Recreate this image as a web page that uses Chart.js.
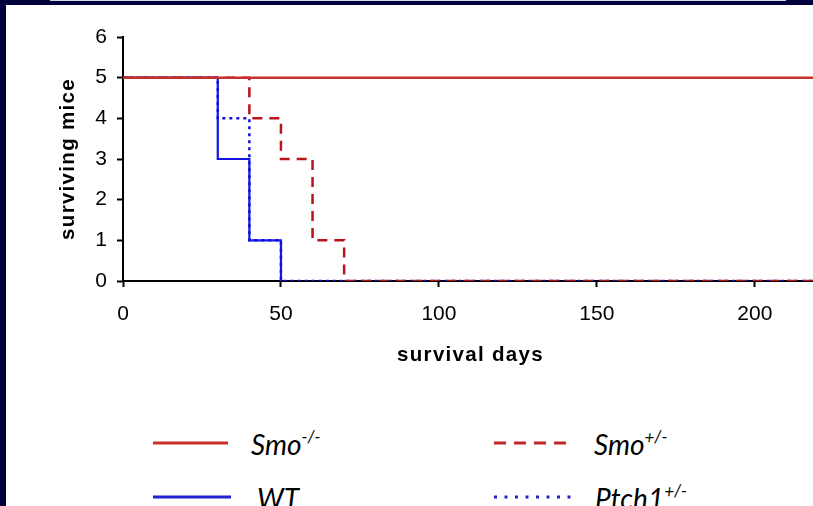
<!DOCTYPE html>
<html>
<head>
<meta charset="utf-8">
<script src="https://cdn.jsdelivr.net/npm/chart.js@4/dist/chart.umd.min.js"></script>
<style>
  html, body { margin: 0; padding: 0; background: #fff; overflow: hidden; width: 813px; height: 506px; }
  #frame_left { position: absolute; left: 0; top: 0; width: 6px; height: 506px; background: #00003c; }
  #frame_top { position: absolute; left: 0; top: 0; width: 813px; height: 5px; background: #00003c; }
  #frame_line { position: absolute; left: 50px; top: 0; width: 736px; height: 1px; background: #d8d8e4; }
  #wrap { position: absolute; left: 0; top: 0; width: 818px; height: 368px; }
  .leg { position: absolute; font-family: Lato, "Noto Sans", sans-serif; font-style: italic; font-size: 28px; color: #000; line-height: 1; white-space: nowrap; }
  .leg sup { font-size: 17px; vertical-align: 0; position: relative; top: -12px; }
  svg.key { position: absolute; overflow: visible; }
</style>
</head>
<body>
<div id="wrap"><canvas id="myChart"></canvas></div>
<div id="frame_left"></div>
<div id="frame_top"></div>
<div id="frame_line"></div>

<!-- Legend keys -->
<svg class="key" style="left:153px;top:442px" width="76" height="2"><line x1="0" y1="1" x2="75" y2="1" stroke="#c8302c" stroke-width="3"/></svg>
<svg class="key" style="left:494px;top:442px" width="74" height="2"><line x1="0" y1="1" x2="73" y2="1" stroke="#c0282a" stroke-width="3" stroke-dasharray="12 8"/></svg>
<svg class="key" style="left:153px;top:496px" width="80" height="2"><line x1="0" y1="1" x2="78" y2="1" stroke="#2020d0" stroke-width="3"/></svg>
<svg class="key" style="left:494px;top:496px" width="78" height="2"><line x1="0" y1="1" x2="77" y2="1" stroke="#2020d0" stroke-width="3" stroke-dasharray="3 7.5"/></svg>

<div class="leg" style="left:251px;top:430px">Smo<sup>-/-</sup></div>
<div class="leg" style="left:594px;top:430px">Smo<sup>+/-</sup></div>
<div class="leg" style="left:257px;top:484px">WT</div>
<div class="leg" style="left:595px;top:484px">Ptch1<sup>+/-</sup></div>

<script>
// Data (Kaplan-Meier steps: day, surviving mice)

const smo_ko_days = [0, 220];
const smo_ko_mice = [5, 5];

const smo_het_days = [0, 40, 50, 60, 70, 220];
const smo_het_mice = [5, 4, 3, 1, 0, 0];

const wt_days = [0, 30, 40, 50];
const wt_mice = [5, 3, 1, 0];

const ptch_days = [0, 30, 40, 50, 220];
const ptch_mice = [5, 4, 1, 0, 0];

const x_ticks = [0, 50, 100, 150, 200];
const y_ticks = [0, 1, 2, 3, 4, 5, 6];

function to_points(days, mice) {
  return days.map((d, i) => ({x: d, y: mice[i]}));
};

// Title spacing: set for the grid layer, reset before the curves
const spacing_plugin = {
  id: 'spacing',
  beforeDraw(chart) { chart.ctx.letterSpacing = '1.3px'; },
  beforeDatasetsDraw(chart) { chart.ctx.letterSpacing = '0px'; }
};

const tick_font = {family: '"Liberation Sans", Arial, sans-serif', size: 21};
const title_font = {family: '"Liberation Sans", Arial, sans-serif', size: 20.5, weight: 'bold'};

const ctx = document.getElementById("myChart").getContext("2d");

const myChart = new Chart(ctx, {
  type: 'line',
  data: {
    datasets: [
      {
        label: 'Smo-/-',
        data: to_points(smo_ko_days, smo_ko_mice),
        borderColor: '#c8302c',
        borderWidth: 2.5,
        stepped: true,
      },
      {
        label: 'Smo+/-',
        data: to_points(smo_het_days, smo_het_mice),
        borderColor: '#b8141a',
        borderWidth: 2.5,
        borderDash: [10, 7],
        stepped: true,
      },
      {
        label: 'Ptch1+/-',
        data: to_points(ptch_days, ptch_mice),
        borderColor: '#1010e0',
        borderWidth: 2.5,
        borderDash: [3, 4],
        stepped: true,
      },
      {
        label: 'WT',
        data: to_points(wt_days, wt_mice),
        borderColor: '#1414e6',
        borderWidth: 2.2,
        stepped: true,
      }
    ]
  },
  options: {
    responsive: true,
    maintainAspectRatio: false,
    animation: false,
    events: [],
    layout: {
      padding: {left: 56, top: 37, right: 0, bottom: 0}
    },
    elements: {
      point: {radius: 0},
      line: {tension: 0, fill: false}
    },
    plugins: {
      legend: {display: false},
      tooltip: {enabled: false}
    },
    scales: {
      x: {
        type: 'linear',
        min: 0,
        max: 220,
        afterFit(scale) { scale.height = 87; },
        afterBuildTicks(scale) { scale.ticks = x_ticks.map(v => ({value: v})); },
        grid: {drawOnChartArea: false, tickLength: 6, tickWidth: 2, color: '#000'},
        border: {color: '#000', width: 2},
        ticks: {font: tick_font, color: '#000', padding: 15, z: 1, maxRotation: 0},
        title: {display: true, text: 'survival days', font: title_font, color: '#000', padding: 0}
      },
      y: {
        type: 'linear',
        min: 0,
        max: 6,
        afterFit(scale) { scale.width = 67; },
        afterBuildTicks(scale) { scale.ticks = y_ticks.map(v => ({value: v})); },
        grid: {drawOnChartArea: false, tickLength: 6, tickWidth: 2, color: '#000'},
        border: {color: '#000', width: 2},
        ticks: {font: tick_font, color: '#000', padding: 10, z: 1},
        title: {display: true, text: 'surviving mice', font: title_font, color: '#000', padding: 0}
      }
    }
  },
  plugins: [spacing_plugin]
});
</script>
</body>
</html>
